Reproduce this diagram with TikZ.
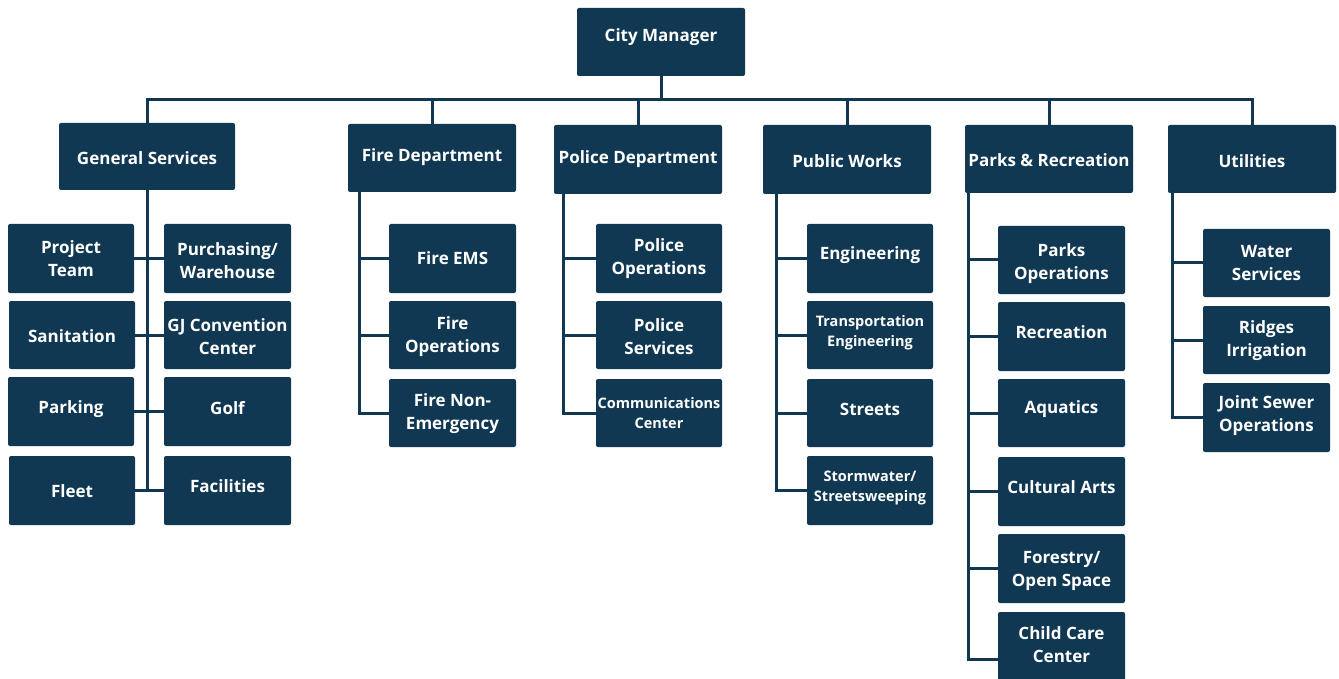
\documentclass[tikz,border=0pt]{standalone}
\usepackage{fontspec}
\setmainfont{Open Sans}
\usetikzlibrary{fit}
\definecolor{navy}{RGB}{17,56,82}
\tikzset{
  box/.style={fill=navy, rounded corners=2pt, inner sep=0pt, draw=none},
  lbl/.style={text=white, font=\fontsize{17}{23}\selectfont\bfseries, align=center, inner sep=0pt},
  smalltext/.style={font=\fontsize{14.5}{20}\selectfont\bfseries},
  link/.style={draw=navy, line width=3pt, line join=miter},
}
% \orgbox[label options]{name}{x1}{y1}{x2}{y2}{label y}{label}
\newcommand{\orgbox}[8][]{%
  \node[box, fit={(#3,#4) (#5,#6)}] (#2) {};
  \node[lbl,#1] (#2-t) at ({(#3+#5)/2},{#7+1.5}) {#8};
}
\begin{document}
\begin{tikzpicture}[x=1pt,y=-1pt]
\useasboundingbox (0,0) rectangle (1339,679);
\clip (0,0) rectangle (1339,679);

% top level
\orgbox{cm}{577}{8}{745}{76}{36}{City Manager}
\orgbox{gs}{59}{123}{235}{190}{157}{General Services}
\orgbox{fd}{348}{124}{516}{192}{156}{Fire Department}
\orgbox{pd}{554}{125}{722}{194}{158}{Police Department}
\orgbox{pwk}{763}{125}{931}{194}{160}{Public Works}
\orgbox{pr}{965}{125}{1133}{193}{159}{Parks \& Recreation}
\orgbox{ut}{1168}{125}{1336}{193}{160}{Utilities}

% general services
\orgbox{pt}{8}{224}{134}{293}{257}{Project\\Team}
\orgbox{pur}{164}{224}{291}{293}{259}{Purchasing/\\Warehouse}
\orgbox{san}{9}{301}{135}{369}{335}{Sanitation}
\orgbox{gjc}{164}{301}{291}{369}{335.5}{GJ Convention\\Center}
\orgbox{park}{8}{377}{134}{446}{408}{Parking}
\orgbox{golf}{164}{377}{291}{446}{407}{Golf}
\orgbox{fleet}{9}{456}{135}{525}{490}{Fleet}
\orgbox{fac}{164}{456}{291}{525}{485}{Facilities}

% fire
\orgbox{fems}{389}{224}{516}{293}{257}{Fire EMS}
\orgbox{fops}{389}{301}{516}{369}{335.5}{Fire\\Operations}
\orgbox{fnon}{389}{379}{516}{447}{412.5}{Fire Non-\\Emergency}

% police
\orgbox{pops}{596}{224}{722}{293}{257.5}{Police\\Operations}
\orgbox{psvc}{596}{301}{722}{369}{335.5}{Police\\Services}
\orgbox[smalltext]{comm}{596}{379}{722}{447}{412}{Communications\\Center}

% public works
\orgbox{eng}{807}{224}{933}{293}{254}{Engineering}
\orgbox[smalltext]{trans}{807}{301}{933}{369}{331}{Transportation\\Engineering}
\orgbox{streets}{807}{379}{933}{447}{408}{Streets}
\orgbox[smalltext]{storm}{807}{456}{933}{525}{486}{Stormwater/\\Streetsweeping}

% parks & recreation
\orgbox{parkops}{998}{226}{1125}{294}{262}{Parks\\Operations}
\orgbox{rec}{998}{302}{1125}{371}{331}{Recreation}
\orgbox{aqua}{998}{379}{1125}{447}{408}{Aquatics}
\orgbox{cult}{998}{457}{1125}{526}{486}{Cultural Arts}
\orgbox{forest}{998}{534}{1125}{603}{569}{Forestry/\\Open Space}
\orgbox{child}{998}{612}{1125}{690}{643}{Child Care\\Center}

% utilities
\orgbox{water}{1203}{229}{1330}{297}{262}{Water\\Services}
\orgbox{ridges}{1203}{306}{1330}{374}{339.5}{Ridges\\Irrigation}
\orgbox{jso}{1203}{383}{1330}{452}{414.5}{Joint Sewer\\Operations}

% bus under the city manager
\coordinate (bus) at (0,100);
\draw[link] (gs.north) -- (gs.north |- bus) -- (ut.north |- bus) -- (ut.north);
\draw[link] (cm.south) -- (cm.south |- bus);
\foreach \d in {fd,pd,pwk,pr}
  \draw[link] (\d.north) -- (\d.north |- bus);

% general services spine
\draw[link] (gs.south) -- (gs.south |- fleet.east);
\foreach \l/\r in {pt/pur,san/gjc,park/golf,fleet/fac}
  \draw[link] (\l.east) -- (\r.west);

% department spines
\coordinate (fdv) at ([xshift=12pt]fd.south west);
\coordinate (pdv) at ([xshift=10pt]pd.south west);
\coordinate (pwv) at ([xshift=14pt]pwk.south west);
\coordinate (prv) at ([xshift=4pt]pr.south west);
\coordinate (utv) at ([xshift=5pt]ut.south west);

\draw[link] (fdv) |- (fnon.west);
\foreach \c in {fems,fops} \draw[link] (fdv |- \c.west) -- (\c.west);

\draw[link] (pdv) |- (comm.west);
\foreach \c in {pops,psvc} \draw[link] (pdv |- \c.west) -- (\c.west);

\draw[link] (pwv) |- (storm.west);
\foreach \c in {eng,trans,streets} \draw[link] (pwv |- \c.west) -- (\c.west);

\draw[link] (prv) |- ([yshift=-8pt]child.west);
\foreach \c in {parkops,rec,aqua,cult,forest} \draw[link] (prv |- \c.west) -- (\c.west);

\draw[link] (utv) |- (jso.west);
\foreach \c in {water,ridges} \draw[link] (utv |- \c.west) -- (\c.west);
\end{tikzpicture}
\end{document}
